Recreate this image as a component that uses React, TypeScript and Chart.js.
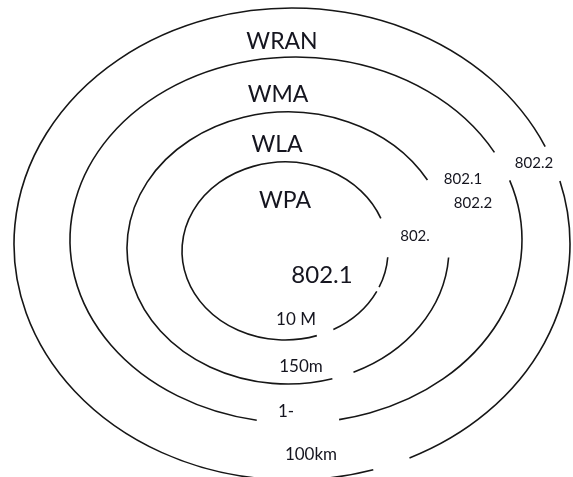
import React, { useEffect, useRef } from "react";
import { Chart, registerables } from "chart.js";

Chart.register(...registerables);

// Rings (ellipses), innermost first, in picture units
const ringNames = ["WPA", "WLA", "WMA", "WRAN"];
const ringCx = [285, 288, 296, 292];
const ringCy = [251, 248, 240, 244];
const ringRx = [103, 161, 226, 278];
const ringRy = [89, 136, 183, 236];
// Drawn arc pieces per ring, in degrees (gaps left between them)
const ringArcStart = [
  [4, 27, 72],
  [4, 74],
  [-19, 100],
  [-15.5, 73],
];
const ringArcEnd = [
  [24, 62, 338.5],
  [66, 330],
  [79, 331.4],
  [65, 335.6],
];

// Text labels
const labelTexts = ["WRAN", "WMA", "WLA", "WPA", "802.1", "10 M", "150m", "1-", "100km", "802.2", "802.1", "802.2", "802."];
const labelX = [282, 278, 277, 285, 322, 296, 301, 286, 311, 534, 463, 473, 415];
const labelY = [42, 95, 145, 201, 275, 320, 367, 412, 455, 163, 179, 203, 236];
const labelSize = [23, 23, 23, 23, 24, 17, 17, 17, 17, 15, 15, 15, 15];

const ringsPlugin = {
  id: "rings",
  afterDatasetsDraw(chart: any) {
    const { ctx, scales } = chart;
    const xs = scales.x;
    const ys = scales.y;
    ctx.save();
    ctx.strokeStyle = "#161616";
    ctx.lineWidth = 1.6;
    for (let i = 0; i < ringNames.length; i++) {
      const cx = xs.getPixelForValue(ringCx[i]);
      const cy = ys.getPixelForValue(ringCy[i]);
      const rx = Math.abs(xs.getPixelForValue(ringCx[i] + ringRx[i]) - cx);
      const ry = Math.abs(ys.getPixelForValue(ringCy[i] + ringRy[i]) - cy);
      for (let k = 0; k < ringArcStart[i].length; k++) {
        ctx.beginPath();
        ctx.ellipse(cx, cy, rx, ry, 0, (ringArcStart[i][k] * Math.PI) / 180, (ringArcEnd[i][k] * Math.PI) / 180);
        ctx.stroke();
      }
    }
    ctx.fillStyle = "#15151f";
    ctx.textAlign = "center";
    ctx.textBaseline = "middle";
    for (let j = 0; j < labelTexts.length; j++) {
      ctx.font = `${labelSize[j]}px Lato, "Open Sans", sans-serif`;
      ctx.fillText(labelTexts[j], xs.getPixelForValue(labelX[j]), ys.getPixelForValue(labelY[j]));
    }
    ctx.restore();
  },
};

export default function App() {
  const ref = useRef<HTMLCanvasElement | null>(null);
  useEffect(() => {
    document.body.style.margin = "0";
    if (!ref.current) return;
    const chart = new Chart(ref.current, {
      type: "scatter",
      data: { datasets: [{ data: [], pointRadius: 0 }] },
      options: {
        animation: false,
        responsive: false,
        devicePixelRatio: 1,
        layout: { padding: 0 },
        plugins: { legend: { display: false }, tooltip: { enabled: false } },
        scales: {
          x: { type: "linear", min: 0, max: 573, display: false },
          y: { type: "linear", min: 0, max: 477, reverse: true, display: false },
        },
      },
      plugins: [ringsPlugin],
    });
    return () => chart.destroy();
  }, []);
  return (
    <div style={{ width: 573, height: 477, background: "#fff" }}>
      <canvas ref={ref} width={573} height={477} />
    </div>
  );
}
